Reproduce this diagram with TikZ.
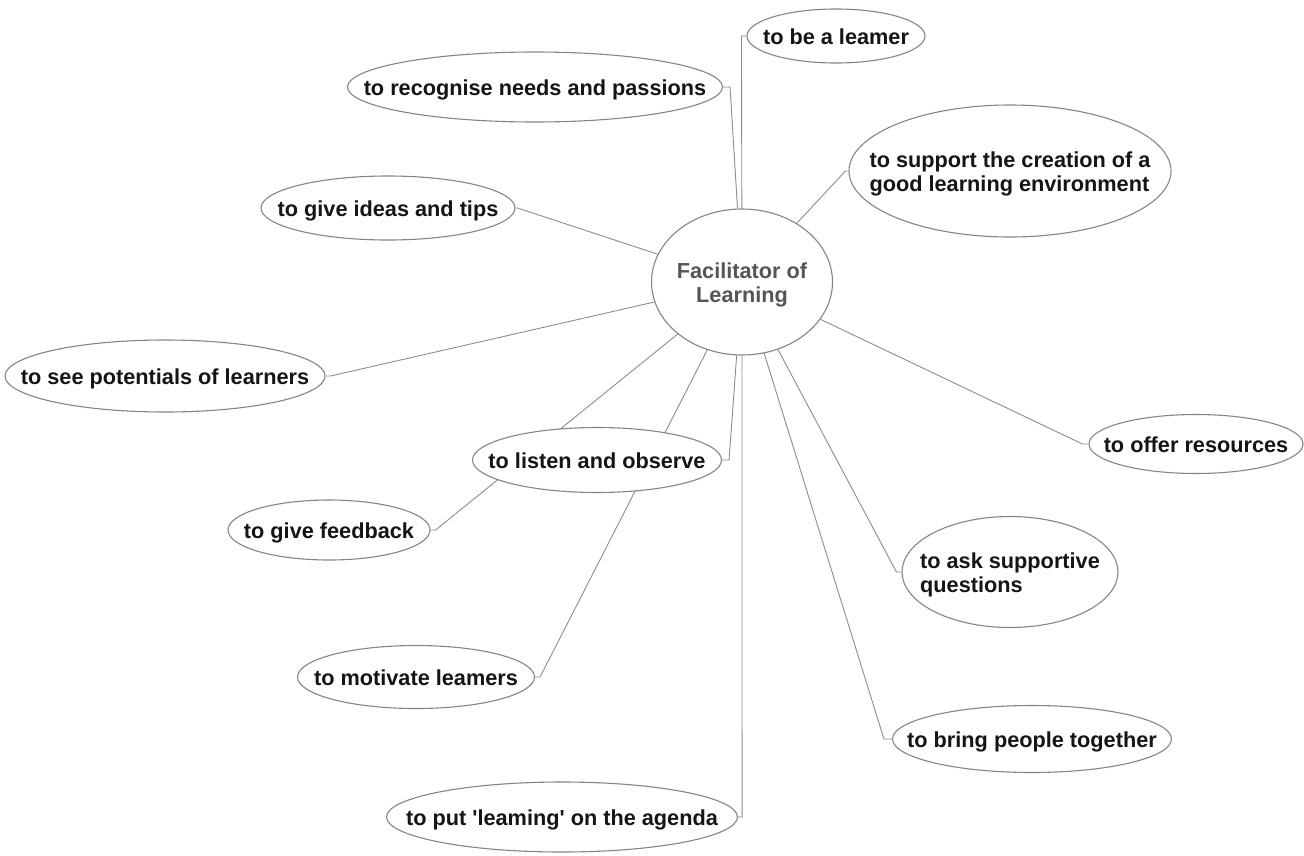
\documentclass[tikz,border=0pt]{standalone}
\usepackage{fontspec}
\setmainfont{Liberation Sans}
\usetikzlibrary{shapes.geometric,backgrounds}
\definecolor{edgegray}{HTML}{858585}
\definecolor{linkgray}{HTML}{8C8C8C}
\definecolor{ctext}{HTML}{555555}
\definecolor{ntext}{HTML}{151515}
\newcommand{\zb}[2][c]{\makebox[0pt][c]{\smash{\raisebox{-9pt}{\begin{tabular}{@{}#1@{}}#2\end{tabular}}}}}
\tikzset{
 idea/.style={ellipse, draw=edgegray, line width=1.1pt, fill=white, inner sep=0pt,
   font=\fontsize{21.7}{24}\selectfont\bfseries, text=ntext},
 link/.style={draw=linkgray, line width=0.9pt},
}
\begin{document}
\begin{tikzpicture}[x=1pt,y=-1pt]
\useasboundingbox (0,0) rectangle (1304,855);
\node[idea, minimum width=181pt, minimum height=146pt, text=ctext] (c) at (742,282) {\zb{Facilitator of\\Learning}};
\node[idea, minimum width=178pt, minimum height=54pt] (learner) at (836,36) {\zb{to be a leamer}};
\node[idea, minimum width=375pt, minimum height=70pt] (rec) at (535,87) {\zb{to recognise needs and passions}};
\node[idea, minimum width=322pt, minimum height=132pt] (sup) at (1010,171) {\zb[l]{to support the creation of a\\good learning environment}};
\node[idea, minimum width=254pt, minimum height=64pt] (ideas) at (388,208) {\zb{to give ideas and tips}};
\node[idea, minimum width=320pt, minimum height=72pt] (pot) at (165,376) {\zb{to see potentials of learners}};
\node[idea, minimum width=249pt, minimum height=65pt] (listen) at (597,460) {\zb{to listen and observe}};
\node[idea, minimum width=202pt, minimum height=60pt] (fb) at (329,530) {\zb{to give feedback}};
\node[idea, minimum width=237pt, minimum height=63pt] (mot) at (416,677) {\zb{to motivate leamers}};
\node[idea, minimum width=351pt, minimum height=70pt] (agenda) at (562,817) {\zb{to put \textquotesingle leaming\textquotesingle{} on the agenda}};
\node[idea, minimum width=214pt, minimum height=59pt] (offer) at (1196,444) {\zb{to offer resources}};
\node[idea, minimum width=216pt, minimum height=111pt] (ask) at (1010,572) {\zb[l]{to ask supportive\\questions}};
\node[idea, minimum width=279pt, minimum height=67pt] (bring) at (1032,739) {\zb{to bring people together}};
\begin{scope}[on background layer]
\draw[link] (c) -- ([xshift=-5pt]learner.west) -- (learner.west);
\draw[link] (c) -- ([xshift=7pt]rec.east) -- (rec.east);
\draw[link] (c) -- ([xshift=-3pt]sup.west) -- (sup.west);
\draw[link] (c) -- ([xshift=2pt]ideas.east) -- (ideas.east);
\draw[link] (c) -- ([xshift=5pt]pot.east) -- (pot.east);
\draw[link] (c) -- ([xshift=7pt]listen.east) -- (listen.east);
\draw[link] (c) -- ([xshift=5pt]fb.east) -- (fb.east);
\draw[link] (c) -- ([xshift=5pt]mot.east) -- (mot.east);
\draw[link] (c) -- ([xshift=4pt]agenda.east) -- (agenda.east);
\draw[link] (c) -- ([xshift=-6pt]offer.west) -- (offer.west);
\draw[link] (c) -- ([xshift=-5pt]ask.west) -- (ask.west);
\draw[link] (c) -- ([xshift=-8pt]bring.west) -- (bring.west);
\end{scope}
\end{tikzpicture}
\end{document}
